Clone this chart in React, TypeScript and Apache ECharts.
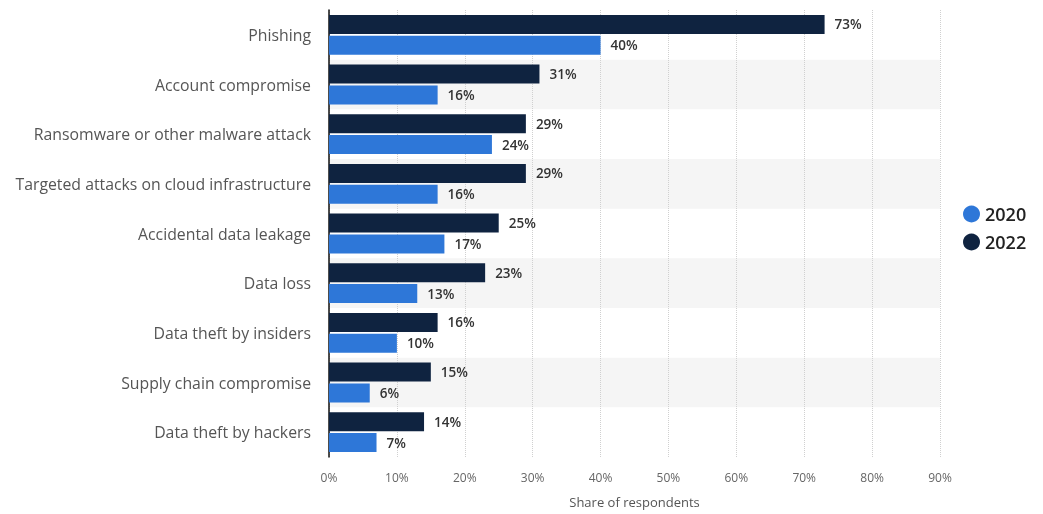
import React, { useEffect, useRef } from "react";
import * as echarts from "echarts";

const categories = [
  "Phishing",
  "Account compromise",
  "Ransomware or other malware attack",
  "Targeted attacks on cloud infrastructure",
  "Accidental data leakage",
  "Data loss",
  "Data theft by insiders",
  "Supply chain compromise",
  "Data theft by hackers",
];
const values2020 = [40, 16, 24, 16, 17, 13, 10, 6, 7];
const values2022 = [73, 31, 29, 29, 25, 23, 16, 15, 14];
const xTicks = [0, 10, 20, 30, 40, 50, 60, 70, 80, 90];

export default function App() {
  const ref = useRef<HTMLDivElement>(null);
  useEffect(() => {
    const chart = echarts.init(ref.current!, null, { renderer: "svg" });
    const font = "'Open Sans', 'Noto Sans', sans-serif";
    const label = {
      show: true,
      position: "right" as const,
      formatter: "{c}%",
      color: "#333",
      fontSize: 13.5,
      fontWeight: 600,
      fontFamily: font,
      distance: 10,
    };
    chart.setOption({
      animation: false,
      textStyle: { fontFamily: font },
      legend: {
        data: ["2020", "2022"],
        orient: "vertical",
        left: 958,
        top: 200,
        icon: "circle",
        itemWidth: 17,
        itemHeight: 17,
        itemGap: 10,
        textStyle: { fontSize: 18, color: "#222", fontWeight: 600, fontFamily: font },
        selectedMode: false,
      },
      grid: { left: 329, right: 103, top: 10, bottom: 57, containLabel: false },
      xAxis: {
        type: "value",
        min: 0,
        max: xTicks[xTicks.length - 1],
        interval: 10,
        name: "Share of respondents",
        nameLocation: "middle",
        nameGap: 38,
        nameTextStyle: { fontSize: 13, color: "#555", fontFamily: font },
        axisLabel: {
          formatter: "{value}%",
          color: "#666",
          fontSize: 12,
          margin: 14,
          fontFamily: font,
        },
        axisLine: { show: false },
        axisTick: { show: false },
        splitLine: { show: true, lineStyle: { color: "#d0d0d0", type: "dotted" } },
      },
      yAxis: {
        type: "category",
        data: categories,
        inverse: true,
        axisLine: { show: true, lineStyle: { color: "#111", width: 1.5 } },
        axisTick: { show: false },
        axisLabel: { color: "#555", fontSize: 15.8, margin: 18, fontFamily: font },
        splitArea: { show: true, areaStyle: { color: ["rgba(255,255,255,0)", "#f5f5f5"] } },
      },
      series: [
        {
          name: "2022",
          type: "bar",
          data: values2022,
          barWidth: 19,
          barGap: "10%",
          itemStyle: { color: "#0f2340" },
          label,
        },
        {
          name: "2020",
          type: "bar",
          data: values2020,
          barWidth: 19,
          barGap: "10%",
          itemStyle: { color: "#2e77d8" },
          label,
        },
      ],
    });
    return () => chart.dispose();
  }, []);
  return <div ref={ref} style={{ width: 1043, height: 514, position: "fixed", left: 0, top: 0 }} />;
}
